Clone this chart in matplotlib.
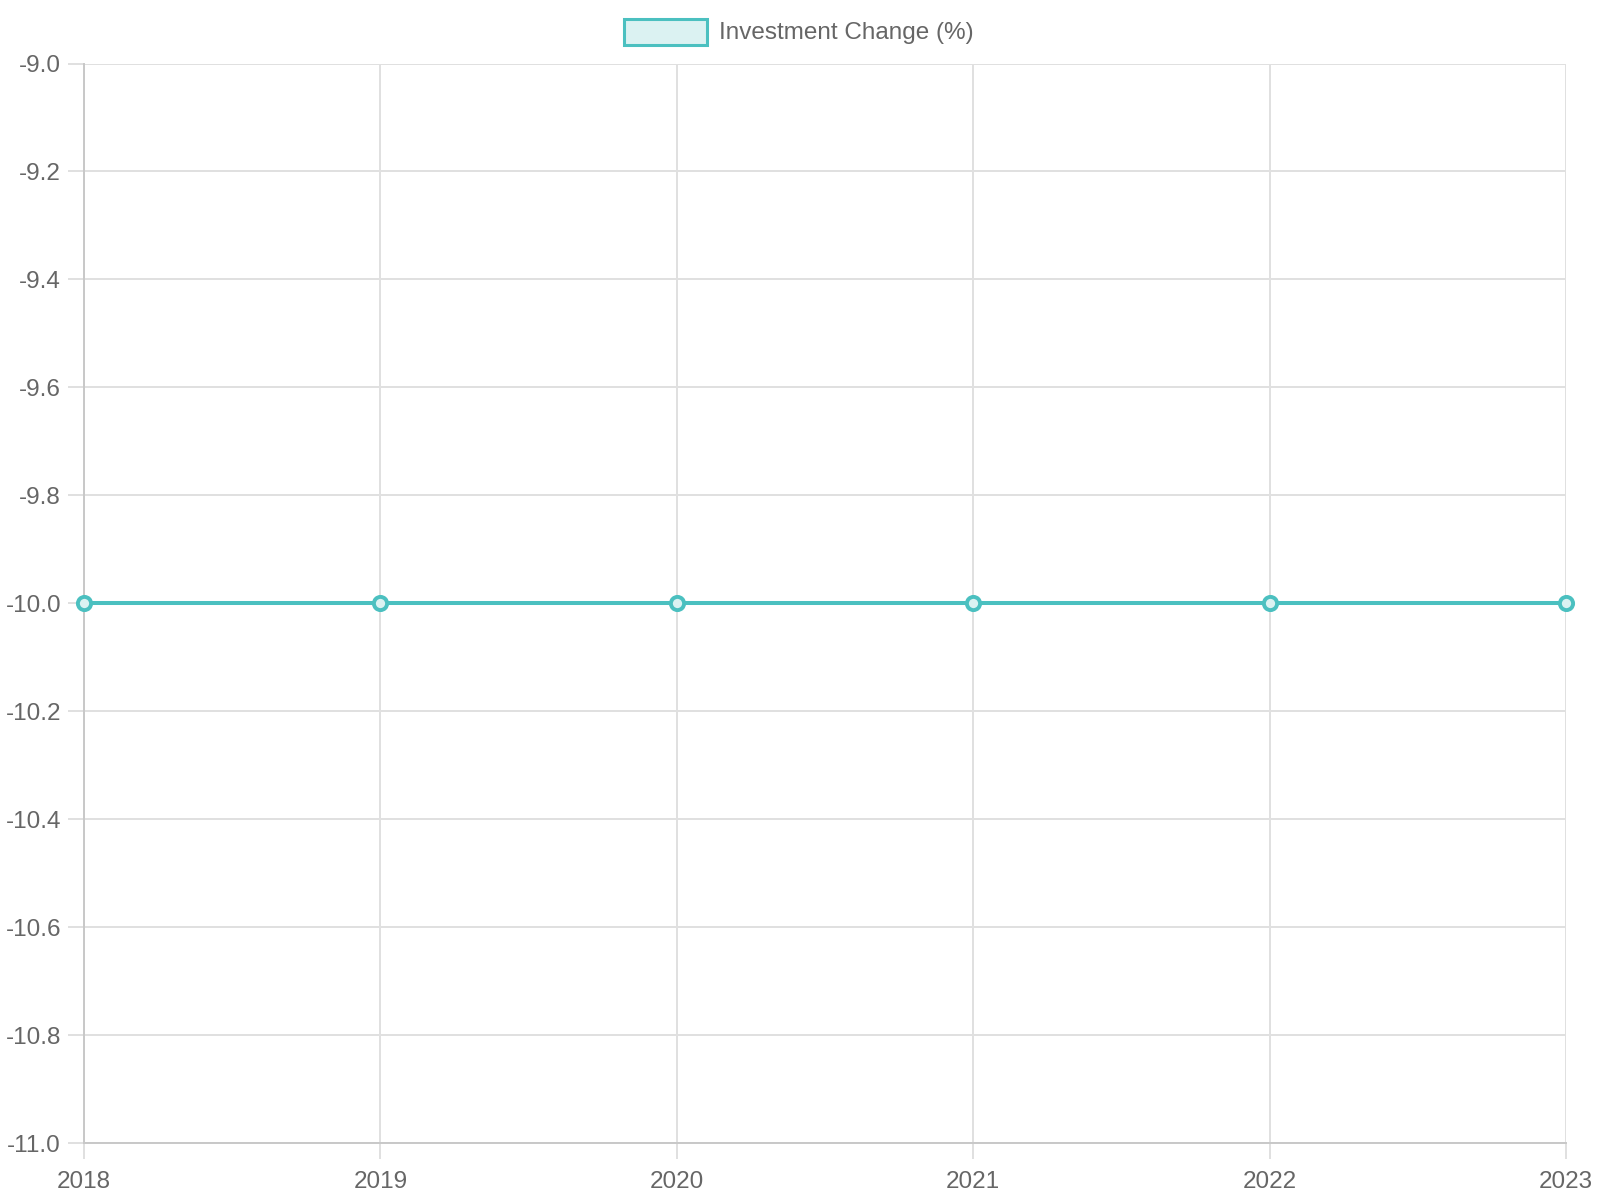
import matplotlib
matplotlib.use("Agg")
import matplotlib.pyplot as plt
from matplotlib.patches import Rectangle
import numpy as np

years = [2018, 2019, 2020, 2021, 2022, 2023]
investment_change = [-10.0, -10.0, -10.0, -10.0, -10.0, -10.0]
series_label = "Investment Change (%)"
y_ticks = [-11.0, -10.8, -10.6, -10.4, -10.2, -10.0, -9.8, -9.6, -9.4, -9.2, -9.0]

plt.rcParams['font.family'] = ['Liberation Sans', 'DejaVu Sans']

LINE = '#4bc0c0'
FILL = '#dbf2f2'
TEXT = '#666666'
GRID = '#e0e0e0'
AXIS = '#c8c8c8'
FS = 17.5

fig = plt.figure(figsize=(16, 12), dpi=100)
ax = fig.add_axes([84/1600, 1 - 1143/1200, (1566-84)/1600, (1143-63.5)/1200])

ax.plot(years, investment_change, color=LINE, linewidth=2.9, marker='o',
        markersize=9.5, markerfacecolor=FILL, markeredgecolor=LINE,
        markeredgewidth=2.8, clip_on=False, zorder=5)

ax.set_xlim(years[0], years[-1])
ax.set_ylim(y_ticks[0], y_ticks[-1])
ax.set_xticks(years)
ax.set_xticklabels([str(y) for y in years])
ax.set_yticks(y_ticks)
ax.set_yticklabels([f"{v:.1f}" for v in y_ticks])

ax.grid(True, color=GRID, linewidth=1.4)
ax.set_axisbelow(True)
for s in ['top', 'right']:
    ax.spines[s].set_visible(False)
for s in ['left', 'bottom']:
    ax.spines[s].set_color(AXIS)
    ax.spines[s].set_linewidth(1.4)

ax.tick_params(axis='both', colors=GRID, labelcolor=TEXT, labelsize=FS,
               length=11.5, width=1.4)
ax.tick_params(axis='x', pad=8.5)
ax.tick_params(axis='y', pad=5)

# legend
bx0, by0, bw, bh = 624/1600, 1 - 45/1200, 83/1600, 26/1200
fig.patches.append(Rectangle((bx0, by0), bw, bh, transform=fig.transFigure,
                             facecolor=FILL, edgecolor=LINE, linewidth=2.2))
fig.text(719/1600, 1 - 33.5/1200, series_label, color=TEXT, fontsize=FS,
         ha='left', va='center')

fig.savefig('out.png', dpi=100)
